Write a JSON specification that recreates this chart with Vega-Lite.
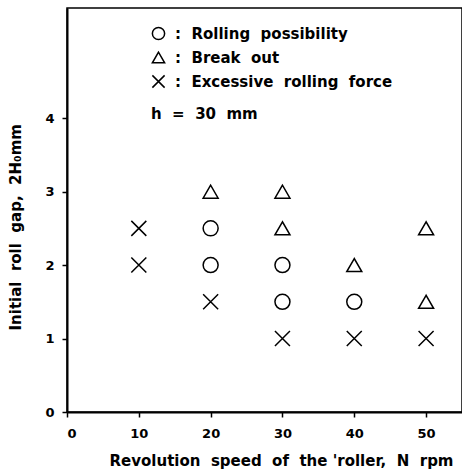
{
  "$schema": "https://vega.github.io/schema/vega-lite/v6.json",
  "width": 395,
  "height": 404,
  "autosize": "none",
  "padding": {"left": 67, "top": 8, "right": 0, "bottom": 63},
  "background": "white",
  "config": {
    "font": "DejaVu Sans",
    "view": {"stroke": "black", "strokeWidth": 1.5},
    "axis": {
      "domainColor": "black", "domainWidth": 2, "tickColor": "black", "tickWidth": 1.5,
      "labelColor": "black", "titleColor": "black", "labelFont": "DejaVu Sans", "titleFont": "DejaVu Sans",
      "labelFontWeight": "bold", "titleFontWeight": "bold", "labelFontSize": 13, "titleFontSize": 15,
      "grid": false, "tickSize": 5
    }
  },
  "data": {
    "values": [
      {"speed": 10, "gap": 2.5, "type": "Excessive rolling force"},
      {"speed": 10, "gap": 2.0, "type": "Excessive rolling force"},
      {"speed": 20, "gap": 3.0, "type": "Break out"},
      {"speed": 20, "gap": 2.5, "type": "Rolling possibility"},
      {"speed": 20, "gap": 2.0, "type": "Rolling possibility"},
      {"speed": 20, "gap": 1.5, "type": "Excessive rolling force"},
      {"speed": 30, "gap": 3.0, "type": "Break out"},
      {"speed": 30, "gap": 2.5, "type": "Break out"},
      {"speed": 30, "gap": 2.0, "type": "Rolling possibility"},
      {"speed": 30, "gap": 1.5, "type": "Rolling possibility"},
      {"speed": 30, "gap": 1.0, "type": "Excessive rolling force"},
      {"speed": 40, "gap": 2.0, "type": "Break out"},
      {"speed": 40, "gap": 1.5, "type": "Rolling possibility"},
      {"speed": 40, "gap": 1.0, "type": "Excessive rolling force"},
      {"speed": 50, "gap": 2.5, "type": "Break out"},
      {"speed": 50, "gap": 1.5, "type": "Break out"},
      {"speed": 50, "gap": 1.0, "type": "Excessive rolling force"}
    ]
  },
  "mark": {"type": "point", "filled": false, "color": "black", "strokeWidth": 1.5, "size": 225, "opacity": 1},
  "encoding": {
    "x": {
      "field": "speed", "type": "quantitative",
      "scale": {"domain": [0, 55], "nice": false, "zero": false},
      "axis": {"values": [0, 10, 20, 30, 40, 50], "title": "Revolution\u00a0 speed\u00a0 of\u00a0 the\u00a0'roller,\u00a0 N\u00a0 rpm", "labelPadding": 10, "titlePadding": 13, "titleAnchor": "end", "titleX": 386}
    },
    "y": {
      "field": "gap", "type": "quantitative",
      "scale": {"domain": [0, 5.5], "nice": false, "zero": false},
      "axis": {"values": [0, 1, 2, 3, 4], "title": "Initial\u00a0 roll\u00a0 gap,\u00a0 2H₀mm", "labelPadding": 8, "titlePadding": 21, "titleAnchor": "start", "titleY": 322}
    },
    "shape": {
      "field": "type", "type": "nominal",
      "scale": {
        "domain": ["Rolling possibility", "Break out", "Excessive rolling force"],
        "range": ["circle", "triangle-up", "M-1,-1L1,1M-1,1L1,-1"]
      },
      "legend": {
        "orient": "none", "legendX": 84, "legendY": 18,
        "title": "h\u00a0 =\u00a0 30\u00a0 mm", "titleOrient": "bottom", "titleAnchor": "start",
        "titleFontSize": 15, "titleFontWeight": "bold", "titleColor": "black", "titlePadding": 16,
        "labelExpr": "':\u00a0\u00a0' + (datum.label == 'Rolling possibility' ? 'Rolling\u00a0 possibility' : datum.label == 'Break out' ? 'Break\u00a0 out' : 'Excessive\u00a0 rolling\u00a0 force')",
        "labelFontSize": 15, "labelFontWeight": "bold", "labelColor": "black", "labelLimit": 400,
        "symbolSize": 150, "symbolStrokeColor": "black", "symbolStrokeWidth": 1.5, "symbolFillColor": "transparent",
        "rowPadding": 6, "labelOffset": 9
      }
    }
  }
}
